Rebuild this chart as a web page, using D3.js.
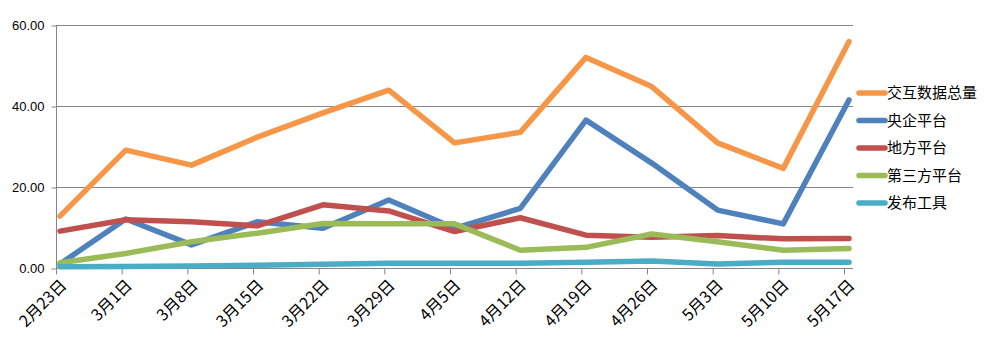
<!DOCTYPE html>
<html><head><meta charset="utf-8">
<script src="https://cdn.jsdelivr.net/npm/d3@7"></script>
<style>body{margin:0;background:#fff}svg{display:block}</style>
</head><body>
<svg id="c" width="996" height="338"></svg>
<script>
const categories = ["2月23日","3月1日","3月8日","3月15日","3月22日","3月29日","4月5日","4月12日","4月19日","4月26日","5月3日","5月10日","5月17日"];
const seriesNames = ["交互数据总量","央企平台","地方平台","第三方平台","发布工具"];
const total    = [12.8,29.1,25.4,32.3,38.3,43.9,30.9,33.5,52.0,44.8,30.9,24.6,55.9];
const central  = [1.0,12.1,5.7,11.4,9.8,16.8,9.8,14.7,36.5,25.9,14.3,10.9,41.5];
const local    = [9.1,11.9,11.4,10.4,15.6,14.1,9.0,12.4,8.1,7.6,8.0,7.2,7.3];
const third    = [1.3,3.6,6.5,8.6,11.0,10.9,10.9,4.4,5.1,8.4,6.5,4.4,4.8];
const release  = [0.3,0.4,0.5,0.7,0.9,1.2,1.2,1.2,1.4,1.7,1.0,1.4,1.4];
const yTicks = [0,20,40,60];
const colors = ["#F79646","#4F81BD","#C0504D","#9BBB59","#4BACC6"];
const seriesValues = [total, central, local, third, release];

(function(){
const svg = d3.select("#c");
const pl = 56, pr = 853, pt = 25, pb = 268;
const x = d3.scalePoint().domain(categories).range([60, 849]);
const xTick = d3.scalePoint().domain(categories).range([56, 844]);
const y = d3.scaleLinear().domain([0,60]).range([pb, pt]);

// gridlines
svg.append("g").selectAll("line").data(yTicks.filter(d=>d>0)).join("line")
  .attr("x1", pl).attr("x2", pr)
  .attr("y1", d=>y(d)+0.5).attr("y2", d=>y(d)+0.5)
  .attr("stroke", "#868686").attr("stroke-width", 1);

// y axis
const yAxis = d3.axisLeft(y).tickValues(yTicks).tickFormat(d3.format(".2f")).tickSize(5).tickPadding(7);
const gy = svg.append("g").attr("transform", `translate(${pl+0.5},0)`).call(yAxis);
gy.select(".domain").attr("d", `M0,${pt}V${pb+0.5}`).attr("stroke","#868686");
gy.selectAll(".tick line").attr("stroke","#868686").attr("transform","translate(0,0.5)");
gy.selectAll(".tick text").attr("font-family","'Liberation Sans', Arial, sans-serif").attr("font-size",13).attr("fill","#000");

// x axis
const xAxis = d3.axisBottom(xTick).tickSize(6).tickSizeOuter(0);
const gx = svg.append("g").attr("transform", `translate(0,${pb+0.5})`).call(xAxis);
gx.select(".domain").attr("d", `M${pl},0H${pr}`).attr("stroke","#868686");
gx.selectAll(".tick line").attr("stroke","#868686");
gx.selectAll(".tick text")
  .attr("font-family","'Noto Sans CJK SC',sans-serif").attr("font-size",16).attr("fill","#000")
  .attr("text-anchor","end").attr("dy","0.35em")
  .attr("transform","translate(7,14) rotate(-45)")
  .attr("y",0).attr("x",0);

// lines
const line = d3.line().x((d,i)=>x(categories[i])).y(d=>y(d));
svg.append("g").selectAll("path").data(seriesValues).join("path")
  .attr("d", line).attr("fill","none")
  .attr("stroke", (d,i)=>colors[i]).attr("stroke-width",5.5)
  .attr("stroke-linejoin","round").attr("stroke-linecap","round");

// legend
const lg = svg.append("g").attr("transform","translate(857,93)");
const items = lg.selectAll("g").data(seriesNames).join("g").attr("transform",(d,i)=>`translate(0,${i*27.5})`);
items.append("line").attr("x1",2).attr("x2",28).attr("y1",0).attr("y2",0)
  .attr("stroke",(d,i)=>colors[i]).attr("stroke-width",5.5).attr("stroke-linecap","round");
items.append("text").attr("x",30).attr("y",0).attr("dy","0.36em")
  .attr("font-family","'Noto Sans CJK SC',sans-serif").attr("font-size",15).attr("fill","#000").text(d=>d);
})();
</script>
</body></html>
